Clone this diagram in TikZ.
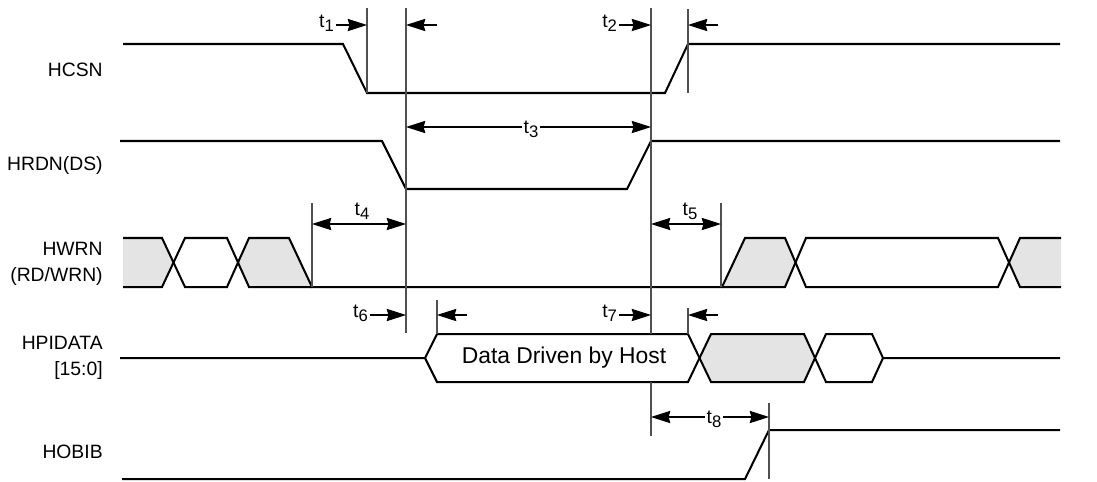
\documentclass[tikz,border=0pt]{standalone}
\usepackage{fontspec}
\setmainfont{Liberation Sans}
\usepackage{tikz}
\usetikzlibrary{arrows.meta,positioning}
\usepackage{xcolor}
\definecolor{sgrey}{RGB}{228,228,228}
\definecolor{edgegrey}{RGB}{80,80,80}
\tikzstyle{sig} = [line width=1.15pt, line join=miter]
\tikzstyle{edgeline} = [line width=0.6pt, color=edgegrey]
\tikzstyle{dim} = [line width=0.6pt, ->, >={Stealth[length=11pt,width=7pt,inset=1pt]}]
\tikzstyle{signame} = [anchor=east, align=right, inner sep=0pt]
\tikzstyle{tlab} = [inner sep=1pt]
\newcommand{\tsub}[1]{t\raisebox{-0.4ex}{\fontsize{9.5}{10}\selectfont #1}}

\begin{document}
\begin{tikzpicture}[x=0.02cm, y=-0.02cm, font=\fontsize{11}{14.7}\selectfont]
\useasboundingbox (0,0) rectangle (1097,481);

% signal names
\node (hcsn) [signame] at (103,70) {HCSN};
\node (hrdn) [signame] at (103,165) {HRDN(DS)};
\node (hwrn) [signame] at (103,264) {HWRN\\(RD/WRN)};
\node (hpid) [signame] at (103,358) {HPIDATA\\{[15:0]}};
\node (hobib) [signame] at (103,452) {HOBIB};

% shaded states
\fill[sgrey] (123,238) -- (162,238) -- (173.5,262.5) -- (162,287) -- (123,287) -- cycle;
\fill[sgrey] (237.5,262.5) -- (249,238) -- (289,238) -- (312,287) -- (249,287) -- cycle;
\fill[sgrey] (722,287) -- (745,238) -- (785,238) -- (795.5,262.5) -- (785,287) -- cycle;
\fill[sgrey] (1009,262.5) -- (1020,238) -- (1061,238) -- (1061,287) -- (1020,287) -- cycle;
\fill[sgrey] (699.5,358) -- (711,334) -- (804,334) -- (815,358) -- (804,382) -- (711,382) -- cycle;

% waveforms
\draw[sig] (123,44) -- (343,44) -- (367,93) -- (665,93) -- (688,44) -- (1060,44);
\draw[sig] (120,141) -- (382,141) -- (406,189) -- (627,189) -- (651,141) -- (1060,141);
\draw[sig] (123,238) -- (162,238) -- (185,287) -- (227,287) -- (249,238) -- (289,238) -- (312,287)
  -- (722,287) -- (745,238) -- (785,238) -- (806,287) -- (998,287) -- (1020,238) -- (1061,238);
\draw[sig] (123,287) -- (162,287) -- (185,238) -- (227,238) -- (249,287) -- (312,287);
\draw[sig] (722,287) -- (785,287) -- (806,238) -- (998,238) -- (1020,287) -- (1061,287);
\draw[sig] (120,358) -- (425,358) -- (437,334) -- (688,334) -- (711,382) -- (804,382) -- (826,334)
  -- (872,334) -- (883,358) -- (1060,358);
\draw[sig] (425,358) -- (437,382) -- (688,382) -- (711,334) -- (804,334) -- (826,382) -- (872,382) -- (883,358);
\draw[sig] (122,479) -- (745,479) -- (769,430) -- (1060,430);
\node (data) [font=\fontsize{13}{15}\selectfont] at (564,358) {Data Driven by Host};

% timing edges
\draw[edgeline] (367,8) -- (367,93);
\draw[edgeline] (406,8) -- (406,333);
\draw[edgeline] (437,300) -- (437,334);
\draw[edgeline] (651,8) -- (651,334);
\draw[edgeline] (651,382) -- (651,436);
\draw[edgeline] (688,9) -- (688,93);
\draw[edgeline] (688,308) -- (688,334);
\draw[edgeline] (312,203) -- (312,287);
\draw[edgeline] (721,203) -- (721,287);
\draw[edgeline] (769,403) -- (769,479);

% arrow ends
\coordinate (a1) at (367,25);
\coordinate (b1) at (406,25);
\coordinate (c1) at (437,25);
\coordinate (a2) at (651,25);
\coordinate (b2) at (688,25);
\coordinate (c2) at (718,25);
\coordinate (a3) at (406,127);
\coordinate (b3) at (651,127);
\coordinate (a4) at (312,224);
\coordinate (b4) at (406,224);
\coordinate (a5) at (651,224);
\coordinate (b5) at (721,224);
\coordinate (a6) at (406,315);
\coordinate (b6) at (437,315);
\coordinate (c6) at (467,315);
\coordinate (a7) at (651,315);
\coordinate (b7) at (688,315);
\coordinate (c7) at (718,315);
\coordinate (a8) at (651,417);
\coordinate (b8) at (769,417);

% timing labels
\node (t1) [tlab, anchor=east] at (336,23) {\tsub{1}};
\node (t2) [tlab, anchor=east] at (619,23) {\tsub{2}};
\node (t3) [tlab] at (531,129) {\tsub{3}};
\node (t4) [tlab] at (362,211) {\tsub{4}};
\node (t5) [tlab] at (690,211) {\tsub{5}};
\node (t6) [tlab, anchor=east] at (370,313) {\tsub{6}};
\node (t7) [tlab, anchor=east] at (619,313) {\tsub{7}};
\node (t8) [tlab] at (714,419) {\tsub{8}};

\draw[dim] (t1.east |- a1) -- (a1);
\draw[dim] (c1) -- (b1);
\draw[dim] (t2.east |- a2) -- (a2);
\draw[dim] (c2) -- (b2);
\draw[dim] (t3.west |- a3) -- (a3);
\draw[dim] (t3.east |- b3) -- (b3);
\draw[dim, <->] (a4) -- (b4);
\draw[dim, <->] (a5) -- (b5);
\draw[dim] (t6.east |- a6) -- (a6);
\draw[dim] (c6) -- (b6);
\draw[dim] (t7.east |- a7) -- (a7);
\draw[dim] (c7) -- (b7);
\draw[dim] (t8.west |- a8) -- (a8);
\draw[dim] (t8.east |- b8) -- (b8);
\end{tikzpicture}
\end{document}
